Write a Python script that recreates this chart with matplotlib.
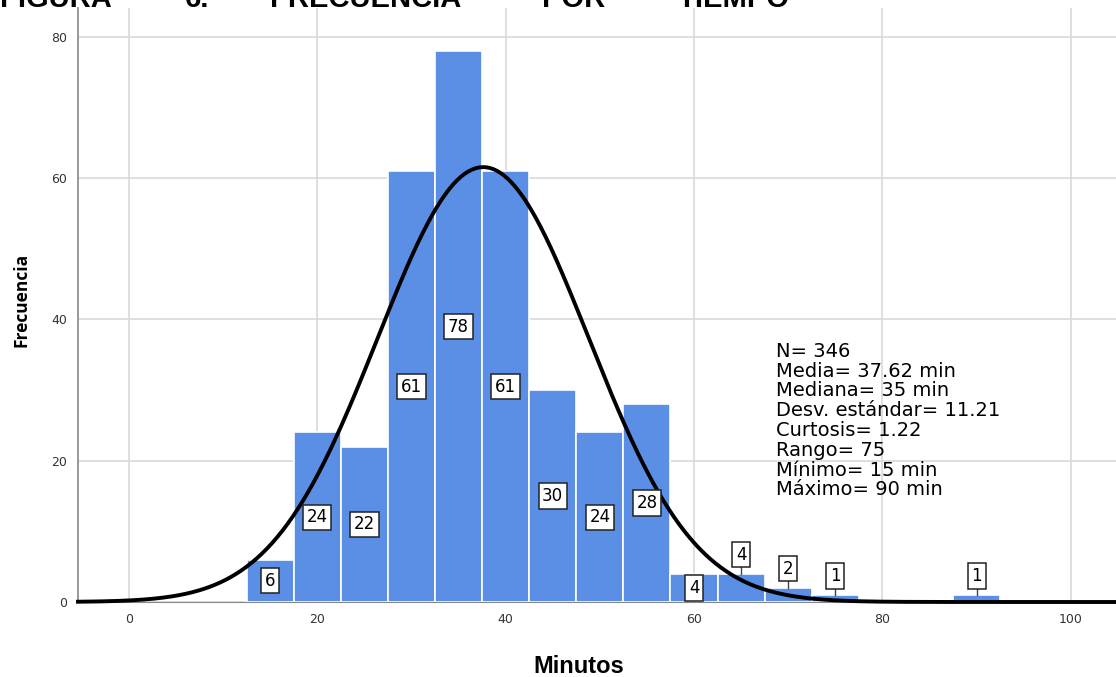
import numpy as np
import matplotlib
matplotlib.use("Agg")
import matplotlib.pyplot as plt

# Datos del histograma (minutos, ancho de clase = 5)
bin_centers = [15, 20, 25, 30, 35, 40, 45, 50, 55, 60, 65, 70, 75, 80, 85, 90]
counts = [6, 24, 22, 61, 78, 61, 30, 24, 28, 4, 4, 2, 1, 0, 0, 1]
lifted = [65, 70, 75, 90]  # etiquetas colocadas sobre la barra

n_obs = 346
mean = 37.62
sd = 11.21
bin_width = 5

stats_lines = [
    "N= 346",
    "Media= 37.62 min",
    "Mediana= 35 min",
    "Desv. estándar= 11.21",
    "Curtosis= 1.22",
    "Rango= 75",
    "Mínimo= 15 min",
    "Máximo= 90 min",
]
title_words = ["FIGURA", "6.", "FRECUENCIA", "POR", "TIEMPO"]
title_x = [0, 185, 270, 542, 678]  # px

BAR_COLOR = "#5B8FE6"
GRID_COLOR = "#D6D6D6"
W, H = 1116, 677

fig = plt.figure(figsize=(W / 100, H / 100), dpi=100)
ax = fig.add_axes([78 / W, (H - 602) / H, 1 - 78 / W, (602 - 8) / H])

ax.set_xlim(-5.4, 104.8)
ax.set_ylim(0, 84.1)
ax.set_xticks([0, 20, 40, 60, 80, 100])
ax.set_yticks([0, 20, 40, 60, 80])
ax.grid(True, color=GRID_COLOR, linewidth=1.1)
ax.set_axisbelow(True)
ax.tick_params(length=0, labelsize=9, labelcolor="#333333", pad=8)
for s in ["top", "right"]:
    ax.spines[s].set_visible(False)
ax.spines["left"].set_color("#888888")
ax.spines["left"].set_linewidth(1.2)
ax.spines["bottom"].set_color("#888888")

ax.bar(bin_centers, counts, width=bin_width, color=BAR_COLOR,
       edgecolor="white", linewidth=1.2, zorder=2)

# curva normal
xs = np.linspace(-5.4, 104.8, 600)
ys = n_obs * bin_width * np.exp(-0.5 * ((xs - mean) / sd) ** 2) / (sd * np.sqrt(2 * np.pi))
ax.plot(xs, ys, color="black", linewidth=2.8, zorder=4, clip_on=False)

box = dict(boxstyle="square,pad=0.22", facecolor="white", edgecolor="#222222", linewidth=1.1)
for c, v in zip(bin_centers, counts):
    if v == 0:
        continue
    if c in lifted:
        y = v + 2.7
        ax.plot([c, c], [v, y - 1.5], color="#444444", linewidth=1.0, zorder=5)
    else:
        y = v / 2
    ax.text(c, y, str(v), ha="center", va="center", fontsize=12,
            color="black", bbox=box, zorder=6)

ax.text(776 / W, 1 - 342 / H, "\n".join(stats_lines), transform=fig.transFigure,
        ha="left", va="top", fontsize=14, linespacing=1.05, color="black", zorder=7)

fig.text(22 / W, 1 - 300 / H, "Frecuencia", rotation=90, ha="center", va="center",
         fontsize=12.5, fontweight="bold", family="Open Sans")
fig.text(579 / W, 1 - 673 / H, "Minutos", ha="center", va="baseline",
         fontsize=17, fontweight="bold", family="Liberation Sans")

# el título aparece recortado en el borde superior, como en el original
for word, x in zip(title_words, title_x):
    fig.text(x / W, 1 - 7 / H, word, ha="left", va="baseline",
             fontsize=21, fontweight="bold", family="Liberation Sans")

fig.savefig("out.png", dpi=100)
